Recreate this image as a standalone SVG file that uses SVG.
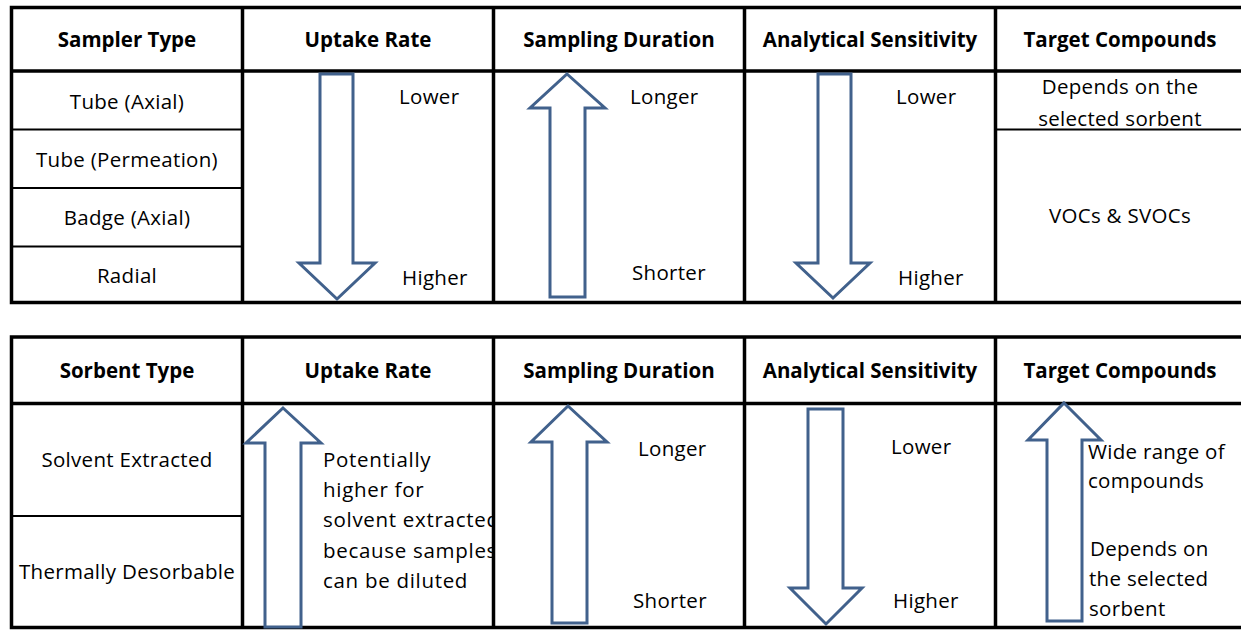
<svg xmlns="http://www.w3.org/2000/svg" width="1241" height="630" viewBox="0 0 1241 630">
<style>
.bg{fill:#fff}
.grid{stroke:#000;stroke-width:3.5;fill:none}
.thin{stroke:#000;stroke-width:2;fill:none}
.arrow{fill:#fff;stroke:#41618c;stroke-width:3;stroke-linejoin:miter}
text{font-family:"Open Sans","Noto Sans","Liberation Sans",sans-serif;font-size:20.5px;letter-spacing:0.3px;fill:#000}
.h{font-weight:bold;text-anchor:middle;letter-spacing:0}
.c{text-anchor:middle}
.w{letter-spacing:0.7px}
</style>
<defs>
<clipPath id="clipUptake"><rect x="244" y="405" width="248" height="222"/></clipPath>
</defs>
<rect class="bg" x="0" y="0" width="1241" height="630"/>

<g id="table1">
<path class="grid" d="M1241 7.5H11.5V302.5H1241M11.5 71H1241M242.5 7.5V302.5M493.5 7.5V302.5M744.5 7.5V302.5M995.5 7.5V302.5"/>
<path class="thin" d="M12 129.5H242M12 188H242M12 246.5H242M996 129.5H1241"/>
</g>
<g id="table2">
<path class="grid" d="M1241 337H11.5V627.5H1241M11.5 403.5H1241M242.5 337V627.5M493.5 337V627.5M744.5 337V627.5M995.5 337V627.5"/>
<path class="thin" d="M12 516H242"/>
</g>

<g id="connectors">
<polygon class="arrow" points="320,74 353,74 353,263 375,263 337,299 299,263 320,263"/>
<polygon class="arrow" points="567,74 605,108 585,108 585,297 550,297 550,108 530,108"/>
<polygon class="arrow" points="818,74 851,74 851,263 870,263 833,298 796,263 818,263"/>
<polygon class="arrow" points="283,408 321,443 301,443 301,627 265,627 265,443 246,443"/>
<polygon class="arrow" points="568,406 607,442 587,442 587,623 552,623 552,442 531,442"/>
<polygon class="arrow" points="808,409 843,409 843,588 862,588 826,624 790,588 808,588"/>
<polygon class="arrow" points="1064,403 1101,440 1082,440 1082,621 1047,621 1047,440 1028,440"/>
</g>

<g id="header1">
<text class="h" x="127" y="47">Sampler Type</text>
<text class="h" x="368" y="47">Uptake Rate</text>
<text class="h" x="619" y="47">Sampling Duration</text>
<text class="h" x="870" y="47">Analytical Sensitivity</text>
<text class="h" x="1120" y="47">Target Compounds</text>
</g>
<g id="samplers">
<text class="c" x="127" y="109">Tube (Axial)</text>
<text class="c" x="127" y="167">Tube (Permeation)</text>
<text class="c" x="127" y="225">Badge (Axial)</text>
<text class="c" x="127" y="283">Radial</text>
</g>
<g id="labels1">
<text x="399" y="104">Lower</text>
<text x="402" y="285">Higher</text>
<text x="630" y="104">Longer</text>
<text x="632" y="280">Shorter</text>
<text x="896" y="104">Lower</text>
<text x="898" y="285">Higher</text>
<text class="c" x="1120" y="94">Depends on the</text>
<text class="c" x="1120" y="126">selected sorbent</text>
<text class="c" x="1120" y="223">VOCs &amp; SVOCs</text>
</g>

<g id="header2">
<text class="h" x="127" y="378">Sorbent Type</text>
<text class="h" x="368" y="378">Uptake Rate</text>
<text class="h" x="619" y="378">Sampling Duration</text>
<text class="h" x="870" y="378">Analytical Sensitivity</text>
<text class="h" x="1120" y="378">Target Compounds</text>
</g>
<g id="sorbents">
<text class="c" x="127" y="467">Solvent Extracted</text>
<text class="c" x="127" y="579">Thermally Desorbable</text>
</g>
<g id="labels2">
<g clip-path="url(#clipUptake)">
<text class="w" x="323" y="467">Potentially</text>
<text class="w" x="323" y="497">higher for</text>
<text class="w" x="323" y="527">solvent extracted</text>
<text class="w" x="323" y="558">because samples</text>
<text class="w" x="323" y="588">can be diluted</text>
</g>
<text x="638" y="456">Longer</text>
<text x="633" y="608">Shorter</text>
<text x="891" y="454">Lower</text>
<text x="893" y="608">Higher</text>
<text x="1088" y="459">Wide range of</text>
<text x="1088" y="488">compounds</text>
<text x="1090" y="556">Depends on</text>
<text x="1089" y="586">the selected</text>
<text x="1089" y="616">sorbent</text>
</g>
</svg>
